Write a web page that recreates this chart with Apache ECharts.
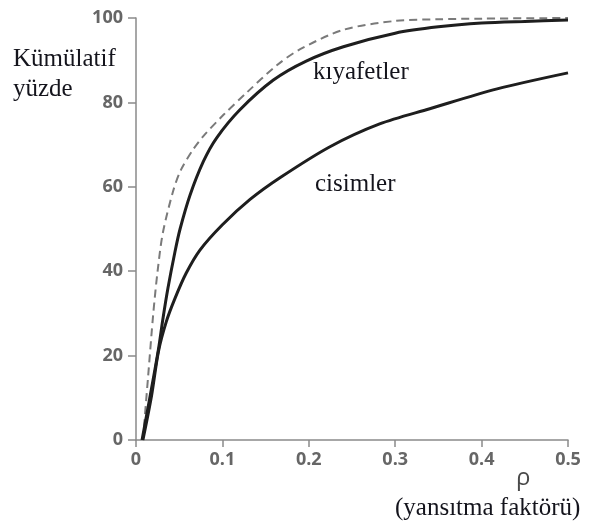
<!DOCTYPE html>
<html>
<head>
<meta charset="utf-8">
<script src="https://cdn.jsdelivr.net/npm/echarts@6/dist/echarts.min.js"></script>
<style>
  html, body { margin: 0; padding: 0; background: #fff; }
  #chart { width: 591px; height: 528px; }
</style>
</head>
<body>
<div id="chart"></div>
<script>
// values (rho, cumulative %)
const kiyafetlerRho = [0.007, 0.016, 0.026, 0.031, 0.037, 0.045, 0.051, 0.0625, 0.078, 0.093, 0.12, 0.159, 0.197, 0.24, 0.3, 0.35, 0.4, 0.45, 0.5]
const kiyafetlerPct = [0, 10, 21.5, 28.5, 36, 44.5, 50, 58, 66, 71.5, 78.2, 85.3, 89.8, 93.2, 96.4, 97.9, 98.8, 99.2, 99.5]

const cisimlerRho = [0.008, 0.018, 0.026, 0.035, 0.045, 0.058, 0.074, 0.1, 0.132, 0.167, 0.2245, 0.282, 0.34, 0.418, 0.5]
const cisimlerPct = [0, 10.5, 21, 28, 33.5, 39.5, 45, 51, 57, 62.2, 69.5, 74.9, 78.5, 83.2, 87]

const kesikRho = [0.008, 0.014, 0.02, 0.025, 0.031, 0.043, 0.052, 0.066, 0.078, 0.101, 0.128, 0.163, 0.19, 0.24, 0.3, 0.35, 0.4, 0.5]
const kesikPct = [0, 15, 30, 40, 49, 59, 64, 68.8, 72, 77, 82.3, 88.8, 92.6, 97.2, 99.3, 99.7, 99.85, 100]

const xTicks = [0, 0.1, 0.2, 0.3, 0.4, 0.5]
const yTicks = [0, 20, 40, 60, 80, 100]

const pairs = (xs, ys) => xs.map((x, i) => [x, ys[i]])

const axisGray = '#8a8a8a'
const labelGray = '#666666'
const textDark = '#14141c'
const serif = 'Liberation Serif'

const chart = echarts.init(document.getElementById('chart'))

const serifText = (text, left, top) => ({
  type: 'text',
  left: left,
  top: top,
  style: { text: text, fontFamily: serif, fontSize: 25, fill: textDark }
})

chart.setOption({
  animation: false,
  grid: { left: 136, right: 23, top: 18, bottom: 88 },
  xAxis: {
    type: 'value',
    min: xTicks[0],
    max: xTicks[xTicks.length - 1],
    interval: 0.1,
    axisLine: { lineStyle: { color: axisGray, width: 1.5 } },
    axisTick: { show: true, length: 7, lineStyle: { color: axisGray, width: 1.5 } },
    axisLabel: {
      margin: 11,
      color: labelGray,
      fontFamily: 'Open Sans',
      fontWeight: 'bold',
      fontSize: 18
    },
    splitLine: { show: false }
  },
  yAxis: {
    type: 'value',
    min: yTicks[0],
    max: yTicks[yTicks.length - 1],
    interval: 20,
    axisLine: { show: true, lineStyle: { color: axisGray, width: 1.5 } },
    axisTick: { show: true, length: 8, lineStyle: { color: axisGray, width: 1.5 } },
    axisLabel: {
      margin: 13,
      color: labelGray,
      fontFamily: 'Open Sans',
      fontWeight: 'bold',
      fontSize: 18
    },
    splitLine: { show: false }
  },
  series: [
    {
      name: 'kesikli',
      type: 'line',
      smooth: 0.3,
      symbol: 'none',
      lineStyle: { color: '#7a7a7a', width: 2, type: [8, 5] },
      data: pairs(kesikRho, kesikPct)
    },
    {
      name: 'kıyafetler',
      type: 'line',
      smooth: 0.3,
      symbol: 'none',
      lineStyle: { color: '#1e1e1e', width: 3 },
      data: pairs(kiyafetlerRho, kiyafetlerPct)
    },
    {
      name: 'cisimler',
      type: 'line',
      smooth: 0.3,
      symbol: 'none',
      lineStyle: { color: '#1e1e1e', width: 3 },
      data: pairs(cisimlerRho, cisimlerPct)
    }
  ],
  graphic: [
    serifText('Kümülatif', 13, 47),
    serifText('yüzde', 13, 77),
    serifText('kıyafetler', 313, 60),
    serifText('cisimler', 315, 172),
    {
      type: 'text',
      left: 516,
      top: 466,
      style: { text: 'ρ', fontFamily: 'Open Sans', fontSize: 24, fill: '#4a4a4a' }
    },
    serifText('(yansıtma faktörü)', 395, 496)
  ]
})

window.addEventListener('resize', () => {
  chart.resize()
})
</script>
</body>
</html>
